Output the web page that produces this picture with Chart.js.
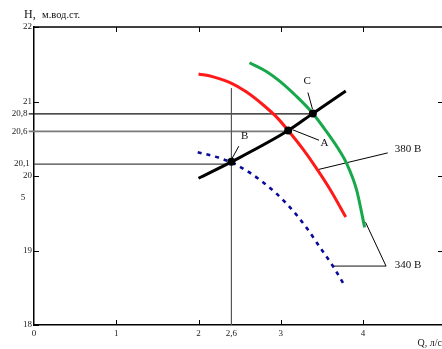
<!DOCTYPE html>
<html>
<head>
<meta charset="utf-8">
<script src="https://cdn.jsdelivr.net/npm/chart.js@4.4.1/dist/chart.umd.min.js"></script>
<style>
html,body{margin:0;padding:0;background:#fff;overflow:hidden;}
canvas{display:block;}
</style>
</head>
<body>
<canvas id="c" width="442" height="349"></canvas>
<script>
// ---- data ----
const xTickValues = [0, 1, 2, 2.4, 3, 4];
const xTickLabels = ['0', '1', '2', '2,6', '3', '4'];
const yTickValues = [18, 19, 19.71, 20, 20.16, 20.6, 20.835, 21, 22];
const yTickLabels = ['18', '19', '5\u00a0\u00a0\u00a0', '20', '20,1\u00a0', '20,6\u00a0\u00a0', '20,8\u00a0\u00a0', '21', '22'];

// pump curve (red)
const redQ = [2.0, 2.18, 2.39, 2.58, 2.78, 2.95, 3.09, 3.27, 3.43, 3.60, 3.79];
const redH = [21.37, 21.33, 21.25, 21.13, 20.96, 20.79, 20.61, 20.36, 20.11, 19.82, 19.45];
// pump curve (green)
const greenQ = [2.62, 2.83, 2.99, 3.19, 3.39, 3.56, 3.72, 3.80, 3.92, 4.02];
const greenH = [21.52, 21.40, 21.27, 21.07, 20.84, 20.59, 20.33, 20.17, 19.82, 19.31];
// pump curve (blue dashed)
const blueQ = [1.99, 2.26, 2.46, 2.78, 3.07, 3.31, 3.49, 3.64, 3.78];
const blueH = [20.32, 20.24, 20.15, 19.92, 19.63, 19.31, 19.02, 18.78, 18.52];
// system characteristic (black)
const sysQ = [2.0, 2.40, 3.09, 3.39, 3.79];
const sysH = [19.97, 20.19, 20.61, 20.84, 21.14];
// operating points
const pointNames = ['B', 'A', 'C'];
const pointQ = [2.40, 3.09, 3.39];
const pointH = [20.19, 20.61, 20.84];
// reference lines
const refQ26 = 2.4;
const refTopH = 21.18;
const refH = [20.835, 20.6, 20.16];
const refStartQ = [-0.064, -0.064, 0];
const refEndQ = [3.39, 3.09, 2.40];
// label leaders [q1,h1,q2,h2]
const leaderC = [3.33, 21.12, 3.385, 20.90];
const leaderA = [3.145, 20.62, 3.465, 20.48];
const leaderB = [2.49, 20.40, 2.40, 20.22];
const leader380 = [3.43, 20.08, 4.30, 20.31];
const leader340a = [4.03, 19.38, 4.28, 18.79];
const leader340b = [3.64, 18.79, 4.28, 18.79];
// annotation texts [text, q, h]
const annoTexts = [['C', 3.32, 21.27], ['B', 2.56, 20.53], ['A', 3.53, 20.44], ['380 В', 4.385, 20.36], ['340 В', 4.385, 18.80]];

const xy = (qs, hs) => qs.map((q, i) => ({x: q, y: hs[i]}));
const seg = a => [{x: a[0], y: a[1]}, {x: a[2], y: a[3]}];
const SERIF = '"Liberation Serif","Times New Roman",serif';

function lineDs(data, color, width, order, extra) {
  return Object.assign({data, showLine: true, borderColor: color, borderWidth: width,
    pointRadius: 0, fill: false, order, clip: false, tension: 0}, extra || {});
}

const datasets = [
  {data: xy(pointQ, pointH), showLine: false, pointRadius: 4, pointBackgroundColor: '#000', pointBorderColor: '#000', pointBorderWidth: 0, order: 0},
  lineDs(xy(sysQ, sysH), '#000', 3, 1, {cubicInterpolationMode: 'monotone'}),
  lineDs(xy(greenQ, greenH), '#16a84a', 3, 2, {cubicInterpolationMode: 'monotone'}),
  lineDs(xy(redQ, redH), '#ff1a1a', 3, 2, {cubicInterpolationMode: 'monotone'}),
  lineDs(xy(blueQ, blueH), '#0a0a9a', 2.6, 2, {cubicInterpolationMode: 'monotone', borderDash: [4, 5]}),
  lineDs(seg(leaderC), '#000', 1, 3),
  lineDs(seg(leaderA), '#000', 1, 3),
  lineDs(seg(leaderB), '#000', 1, 3),
  lineDs(seg(leader380), '#000', 1, 3),
  lineDs(seg(leader340a), '#000', 1, 3),
  lineDs(seg(leader340b), '#777', 1.6, 3),
  lineDs([{x: refQ26, y: 18}, {x: refQ26, y: refTopH}], '#555', 1.2, 4),
  lineDs([{x: refStartQ[0], y: refH[0]}, {x: refEndQ[0], y: refH[0]}], '#111', 1.2, 4),
  lineDs([{x: refStartQ[1], y: refH[1]}, {x: refEndQ[1], y: refH[1]}], '#7a7a7a', 1.8, 4),
  lineDs([{x: refStartQ[2], y: refH[2]}, {x: refEndQ[2], y: refH[2]}], '#444', 1.2, 4)
];

const decor = {
  id: 'decor',
  afterDatasetsDraw(chart) {
    const {ctx, chartArea: a, scales: {x, y}} = chart;
    ctx.save();
    ctx.strokeStyle = '#000';
    ctx.lineWidth = 1.5;
    ctx.beginPath();
    ctx.moveTo(a.left, a.top); ctx.lineTo(a.right, a.top);
    ctx.stroke();
    ctx.lineWidth = 1;
    ctx.beginPath();
    [18, 19, 20, 21, 22].forEach(v => {
      const py = Math.round(y.getPixelForValue(v)) + 0.5;
      ctx.moveTo(a.left, py); ctx.lineTo(a.left + 5, py);
      if (v > 18 && v < 22) { ctx.moveTo(a.right - 4, py); ctx.lineTo(a.right, py); }
    });
    [1, 2, 3, 4].forEach(v => {
      const px = Math.round(x.getPixelForValue(v)) + 0.5;
      ctx.moveTo(px, a.bottom); ctx.lineTo(px, a.bottom - 5);
      ctx.moveTo(px, a.top); ctx.lineTo(px, a.top + 5);
    });
    ctx.stroke();
    // labels
    ctx.fillStyle = '#111';
    ctx.textBaseline = 'middle';
    annoTexts.forEach(([t, q, h], i) => {
      ctx.font = '11px ' + SERIF;
      ctx.textAlign = i < 3 ? 'center' : 'left';
      ctx.fillText(t, x.getPixelForValue(q), y.getPixelForValue(h));
    });
    ctx.textAlign = 'left';
    ctx.textBaseline = 'alphabetic';
    ctx.font = '12px ' + SERIF;
    ctx.fillText('H,', 24, 18);
    ctx.font = '10.5px ' + SERIF;
    ctx.fillText('м.вод.ст.', 42, 18);
    ctx.restore();
  }
};

new Chart(document.getElementById('c'), {
  type: 'scatter',
  data: {datasets},
  options: {
    responsive: false,
    animation: false,
    layout: {autoPadding: false, padding: {top: 27, right: 0, left: 0, bottom: 0}},
    plugins: {legend: {display: false}, tooltip: {enabled: false}},
    scales: {
      x: {
        type: 'linear', min: 0, max: 4.96, position: 'bottom',
        afterBuildTicks: s => { s.ticks = xTickValues.map(v => ({value: v})); },
        afterFit: s => { s.height = 24; s.paddingRight = 0; s.paddingLeft = 0; },
        ticks: {
          callback: v => { const i = xTickValues.indexOf(v); return i >= 0 ? xTickLabels[i] : ''; },
          font: {family: SERIF, size: 9}, color: '#222', padding: 3, maxRotation: 0, autoSkip: false
        },
        grid: {display: false, drawTicks: false},
        border: {display: true, color: '#000', width: 1.5},
        title: {display: true, text: 'Q, л/с', align: 'end', color: '#222', font: {family: SERIF, size: 10}, padding: {top: 0, bottom: 0}}
      },
      y: {
        type: 'linear', min: 18, max: 22, position: 'left',
        afterBuildTicks: s => { s.ticks = yTickValues.map(v => ({value: v})); },
        afterFit: s => { s.width = 34; },
        ticks: {
          callback: v => { const i = yTickValues.indexOf(v); return i >= 0 ? yTickLabels[i] : ''; },
          font: {family: SERIF, size: 9}, color: '#222', padding: 2, autoSkip: false
        },
        grid: {display: false, drawTicks: false},
        border: {display: true, color: '#000', width: 1.5}
      }
    }
  },
  plugins: [decor]
});
</script>
</body>
</html>
